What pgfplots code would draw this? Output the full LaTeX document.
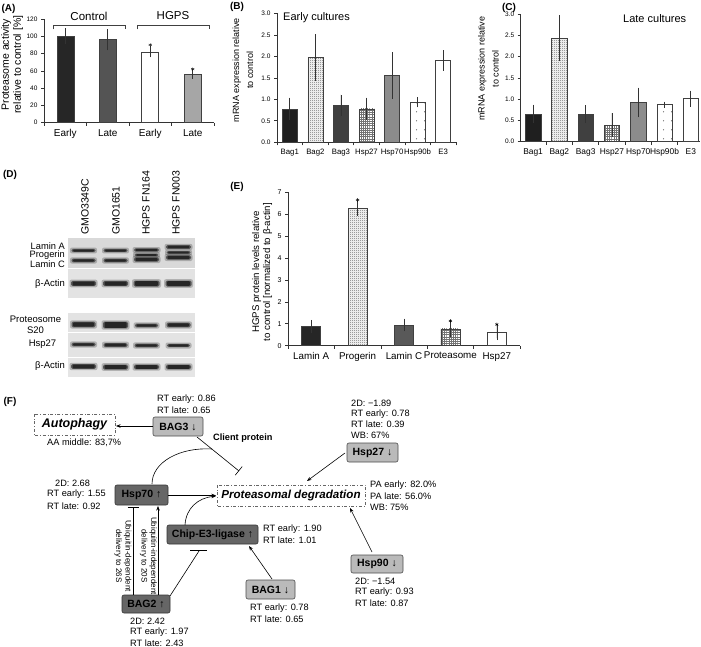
\documentclass[border=0pt]{standalone}
\usepackage{fontspec}
\setmainfont{Liberation Sans}
\usepackage{pgfplots}
\pgfplotsset{compat=1.18}
\usetikzlibrary{patterns,arrows.meta}

% fill patterns of the bars
\pgfdeclarepatternformonly{finecheck}{\pgfqpoint{0pt}{0pt}}{\pgfqpoint{2pt}{2pt}}{\pgfqpoint{2pt}{2pt}}{%
  \pgfpathrectangle{\pgfqpoint{0pt}{0pt}}{\pgfqpoint{1pt}{1pt}}%
  \pgfpathrectangle{\pgfqpoint{1pt}{1pt}}{\pgfqpoint{1pt}{1pt}}\pgfusepath{fill}}
\pgfdeclarepatternformonly{finegrid}{\pgfqpoint{-0.3pt}{-0.3pt}}{\pgfqpoint{2.5pt}{2.5pt}}{\pgfqpoint{2.2pt}{2.2pt}}{%
  \pgfsetlinewidth{0.45pt}%
  \pgfpathmoveto{\pgfqpoint{0pt}{0pt}}\pgfpathlineto{\pgfqpoint{2.2pt}{0pt}}%
  \pgfpathmoveto{\pgfqpoint{0pt}{0pt}}\pgfpathlineto{\pgfqpoint{0pt}{2.2pt}}\pgfusepath{stroke}}
\pgfdeclarepatternformonly{sparsedots}{\pgfqpoint{0pt}{0pt}}{\pgfqpoint{7.5pt}{8.7pt}}{\pgfqpoint{7.5pt}{8.7pt}}{%
  \pgfpathcircle{\pgfqpoint{3.7pt}{4.3pt}}{0.6pt}\pgfusepath{fill}}

\pgfplotsset{
  /pgf/number format/assume math mode=true,
  panel/.style={scale only axis, anchor=south west, clip=false,
    axis x line*=bottom, axis y line*=left, tick align=outside,
    ymin=0, enlargelimits=false,
    axis line style={black!80, line width=0.6pt},
    tick style={black!80, line width=0.6pt},
    major tick length=3pt, minor tick length=3pt,
    major x tick style={draw=none}, minor y tick num=0,
    yticklabel style={font=\fontsize{6.5}{7}\selectfont},
    ylabel style={anchor=center, align=center}},
  bar/.style={ybar, draw=black!75, line width=0.5pt},
  errcap/.style={error bars/y dir=both, error bars/y explicit,
    error bars/error mark=-, error bars/error mark options={black!80, mark size=2pt, line width=0.6pt},
    error bars/error bar style={black!80, line width=0.6pt}},
  errline/.style={error bars/y dir=both, error bars/y explicit,
    error bars/error mark=none,
    error bars/error bar style={black!80, line width=0.7pt}},
}

\newcommand\band[4]{% centre x, centre y, half width, half height
  \fill[black, opacity=0.22, rounded corners=2pt] (#1-#3-1.5,#2-#4-1.3) rectangle (#1+#3+1.5,#2+#4+1.3);
  \fill[black, opacity=0.5, rounded corners=1.5pt] (#1-#3,#2-#4) rectangle (#1+#3,#2+#4);
  \fill[black!85, rounded corners=1pt] (#1-#3+1.5,#2-#4+0.6) rectangle (#1+#3-1.5,#2+#4-0.6);}

\begin{document}
\begin{tikzpicture}
\useasboundingbox (0,0) rectangle (701pt,-647pt);

% (A)
\begin{axis}[panel, at={(44pt,-122.7pt)}, width=170pt, height=103.7pt,
  xmin=-0.5, xmax=3.5, ymax=120, ytick={0,20,40,60,80,100,120},
  xtick={0,1,2,3}, xticklabels={Early,Late,Early,Late},
  minor xtick={-0.5,0.5,1.5,2.5,3.5},
  xticklabel style={font=\fontsize{10}{12}\selectfont},
  ylabel={Proteasome activity\\relative to control [\%]},
  ylabel style={at={(axis description cs:-0.188,0.56)}, font=\fontsize{10.5}{12}\selectfont}]
\addplot[bar, bar width=17pt, fill=black!85, errcap] coordinates {(0,100) +- (0,7)};
\addplot[bar, bar width=17pt, fill=black!67, errcap] coordinates {(1,96) +- (0,10)};
\addplot[bar, bar width=17pt, fill=white, errcap] coordinates {(2,82) +- (0,4)};
\addplot[bar, bar width=17pt, fill=black!35, errcap] coordinates {(3,56) +- (0,3)};
\addplot[only marks, mark=asterisk, mark size=1.8pt, black] coordinates {(2,90) (3,62)};
\end{axis}

% (B)
\begin{axis}[panel, at={(277pt,-142.3pt)}, width=179pt, height=129pt,
  xmin=-0.5, xmax=6.5, ymax=3, ytick={0,0.5,1,1.5,2,2.5,3},
  yticklabel style={/pgf/number format/.cd, fixed, fixed zerofill, precision=1},
  xtick={0,...,6}, xticklabels={Bag1,Bag2,Bag3,Hsp27,Hsp70,Hsp90b,E3},
  minor xtick={-0.5,0.5,...,6.5},
  xticklabel style={font=\fontsize{7.8}{10}\selectfont},
  ylabel={mRNA expression relative\\to control},
  ylabel style={at={(axis description cs:-0.19,0.56)}, font=\fontsize{9}{14}\selectfont}]
\addplot[bar, bar width=15pt, fill=black!88, errline] coordinates {(0,0.78) +- (0,0.26)};
\addplot[bar, bar width=15pt, pattern=finecheck, pattern color=black!60, errline] coordinates {(1,1.97) +- (0,0.54)};
\addplot[bar, bar width=15pt, fill=black!75, errline] coordinates {(2,0.86) +- (0,0.25)};
\addplot[bar, bar width=15pt, pattern=finegrid, pattern color=black!55, errline] coordinates {(3,0.78) +- (0,0.26)};
\addplot[bar, bar width=15pt, fill=black!45, errline] coordinates {(4,1.55) +- (0,0.54)};
\addplot[bar, bar width=15pt, pattern=sparsedots, pattern color=black!70, errline] coordinates {(5,0.93) +- (0,0.12)};
\addplot[bar, bar width=15pt, fill=white, errline] coordinates {(6,1.90) +- (0,0.24)};
\end{axis}

% (C)
\begin{axis}[panel, at={(520.7pt,-141.7pt)}, width=179.3pt, height=127.7pt,
  xmin=-0.47, xmax=6.35, ymax=3, ytick={0,0.5,1,1.5,2,2.5,3},
  yticklabel style={/pgf/number format/.cd, fixed, fixed zerofill, precision=1},
  xtick={0,...,6}, xticklabels={Bag1,Bag2,Bag3,Hsp27,Hsp70,Hsp90b,E3},
  minor xtick={0.5,1.5,...,5.5},
  xticklabel style={font=\fontsize{8.4}{10}\selectfont},
  ylabel={mRNA expression relative\\to control},
  ylabel style={at={(axis description cs:-0.18,0.57)}, font=\fontsize{9}{14}\selectfont}]
\addplot[bar, bar width=15.5pt, fill=black!88, errline] coordinates {(0,0.65) +- (0,0.22)};
\addplot[bar, bar width=15.5pt, pattern=finecheck, pattern color=black!60, errline] coordinates {(1,2.43) +- (0,0.54)};
\addplot[bar, bar width=15.5pt, fill=black!75, errline] coordinates {(2,0.65) +- (0,0.21)};
\addplot[bar, bar width=15.5pt, pattern=finegrid, pattern color=black!55, errline] coordinates {(3,0.39) +- (0,0.28)};
\addplot[bar, bar width=15.5pt, fill=black!45, errline] coordinates {(4,0.92) +- (0,0.35)};
\addplot[bar, bar width=15.5pt, pattern=sparsedots, pattern color=black!70, errline] coordinates {(5,0.87) +- (0,0.07)};
\addplot[bar, bar width=15.5pt, fill=white, errline] coordinates {(6,1.01) +- (0,0.19)};
\end{axis}

% (E)
\begin{axis}[panel, at={(288pt,-345.7pt)}, width=232pt, height=153.4pt,
  xmin=-0.5, xmax=4.5, ymax=7, ytick={0,1,2,3,4,5,6,7},
  yticklabel style={font=\fontsize{7}{8}\selectfont},
  xtick={0,...,4}, xticklabels={Lamin A,Progerin,Lamin C,Proteasome,Hsp27},
  minor xtick={-0.5,0.5,...,4.5},
  xticklabel style={font=\fontsize{9.8}{12}\selectfont},
  ylabel={HGPS protein levels relative\\to control [normalized to β-actin]},
  ylabel style={at={(axis description cs:-0.112,0.48)}, font=\fontsize{9.7}{11}\selectfont}]
\addplot[bar, bar width=19pt, fill=black!85, errcap] coordinates {(0,0.87) +- (0,0.22)};
\addplot[bar, bar width=19pt, pattern=finecheck, pattern color=black!60, errcap] coordinates {(1,6.27) +- (0,0.25)};
\addplot[bar, bar width=19pt, fill=black!65, errcap] coordinates {(2,0.95) +- (0,0.2)};
\addplot[bar, bar width=19pt, pattern=finegrid, pattern color=black!55, errcap] coordinates {(3,0.77) +- (0,0.3)};
\addplot[bar, bar width=19pt, fill=white, errcap] coordinates {(4,0.62) +- (0,0.27)};
\addplot[only marks, mark=asterisk, mark size=1.8pt, black] coordinates {(1,6.65) (3,1.13) (4,0.97)};
\end{axis}

\begin{scope}[x=1pt, y=-1pt, every node/.style={inner sep=0pt},
  lab/.style={font=\bfseries\fontsize{10}{12}\selectfont},
  ann/.style={anchor=west, font=\fontsize{9.2}{10.7}\selectfont},
  boxt/.style={font=\bfseries\fontsize{10.5}{12}\selectfont},
  lbox/.style={draw=black!70, fill=black!27, rounded corners=2pt, line width=0.6pt},
  dbox/.style={draw=black!80, fill=black!60, rounded corners=2pt, line width=0.6pt},
  dashbox/.style={draw=black!60, dash dot, line width=0.6pt},
  arr/.style={-{Stealth[length=4.5pt,width=3.5pt]}, line width=0.6pt},
  inh/.style={-{Bar[width=11pt]}, line width=0.6pt}]
% panel letters
\node[lab] at (8.5,9) {(A)};
\node[lab] at (237,7) {(B)};
\node[lab] at (509,8) {(C)};
\node[lab] at (10,175) {(D)};
\node[lab] at (237,187) {(E)};
\node[lab] at (10,402) {(F)};

% (A) brackets
\draw[black!75, line width=0.6pt] (53,29.5) -- (53,25) -- (125,25) -- (125,29.5);
\draw[black!75, line width=0.6pt] (137,29.5) -- (137,25) -- (209,25) -- (209,29.5);
\node[font=\fontsize{11.5}{13}\selectfont] at (89,16) {Control};
\node[font=\fontsize{11.5}{13}\selectfont] at (173,16) {HGPS};

\node[anchor=west, font=\fontsize{11}{13}\selectfont] at (283,18) {Early cultures};
\node[anchor=west, font=\fontsize{11}{13}\selectfont] at (623,19) {Late cultures};

% (D) blots
\foreach \x/\t in {85/GMO3349C, 116/GMO1651, 146/HGPS FN164, 176/HGPS FN003}
  \node[rotate=90, anchor=west, font=\fontsize{10.5}{12}\selectfont] at (\x,235) {\t};
\fill[black!15] (68,238) rectangle (195,268);
\fill[black!11] (68,268.6) rectangle (195,298);
\fill[black!11] (68,313) rectangle (195,332);
\fill[black!11] (68,332.8) rectangle (195,357);
\fill[black!10] (68,357.8) rectangle (195,377);
\band{83.5}{250.5}{12}{1.6}\band{115.5}{250.5}{12}{1.6}\band{146.5}{250}{12.5}{1.7}\band{178.5}{247}{12.5}{1.8}
\band{146.5}{255}{12}{1.4}\band{178.5}{252.5}{12}{1.5}
\band{83.5}{260.5}{12}{1.8}\band{115.5}{260.5}{12}{1.8}\band{146.5}{259.5}{12.5}{2.2}\band{178.5}{257.5}{12.5}{2.2}
\band{83.5}{283.5}{12.5}{2.6}\band{115.5}{283.5}{12.5}{2.6}\band{146.5}{283.5}{13}{3}\band{178.5}{283.5}{13}{3}
\band{83.5}{324.5}{12}{2.8}\band{115.5}{325}{12.5}{3.4}\band{146.5}{325.5}{11.5}{1.8}\band{178.5}{325}{12}{2.3}
\band{83.5}{344.5}{12}{1.8}\band{115.5}{345}{12}{2}\band{146.5}{345.5}{12}{1.8}\band{178.5}{345.5}{11.5}{1.7}
\band{83.5}{366.5}{12.5}{2.4}\band{115.5}{367}{12.5}{2.5}\band{146.5}{367}{12.5}{2.4}\band{178.5}{367}{12.5}{2.4}
\node[anchor=east, align=right, font=\fontsize{9.3}{8}\selectfont] at (65,255) {Lamin A\\Progerin\\Lamin C};
\node[font=\fontsize{9.5}{11}\selectfont] at (50,284) {β-Actin};
\node[align=center, font=\fontsize{9.5}{11}\selectfont] at (35.5,324.5) {Proteosome\\S20};
\node[font=\fontsize{9.5}{11}\selectfont] at (42.5,344) {Hsp27};
\node[font=\fontsize{9.5}{11}\selectfont] at (50,366) {β-Actin};

% (F) diagram
\node[ann] at (157,399) {RT early: 0.86};
\node[ann] at (157,410) {RT late: 0.65};
\draw[dashbox] (34,414) rectangle (115,435);
\node[font=\bfseries\itshape\fontsize{12.5}{14}\selectfont] at (74.5,424.5) {Autophagy};
\node[ann] at (47,443) {AA middle: 83,7\%};
\draw[lbox] (153,417) rectangle (203,436);
\node[boxt] at (178,426.5) {BAG3 ↓};
\draw[arr] (153,426) -- (116,426);
\node[ann, font=\bfseries\fontsize{9.2}{10.7}\selectfont] at (213,438) {Client protein};
\draw[inh] (197,437) -- (239,471);
\draw[line width=0.6pt] (152,484) .. controls (152,462) and (180,447) .. (212,449);

\draw[lbox] (347,443) rectangle (398,462);
\node[boxt] at (372.5,452.5) {Hsp27 ↓};
\node[ann] at (351,403) {2D: −1.89};
\node[ann] at (351,413.7) {RT early: 0.78};
\node[ann] at (351,424.4) {RT late: 0.39};
\node[ann] at (351,435) {WB: 67\%};
\draw[arr] (345,453) -- (307,481);

\draw[dashbox] (217,485) rectangle (365,506);
\node[font=\bfseries\itshape\fontsize{11.6}{14}\selectfont] at (291,495.5) {Proteasomal degradation};
\node[ann] at (370,485) {PA early: 82.0\%};
\node[ann] at (370,496) {PA late: 56.0\%};
\node[ann] at (370,507) {WB: 75\%};

\draw[dbox] (115,485) rectangle (168,505);
\node[boxt] at (141.5,495) {Hsp70 ↑};
\node[ann] at (55,483) {2D: 2.68};
\node[ann] at (47,494.5) {RT early: 1.55};
\node[ann] at (47,506) {RT late: 0.92};
\draw[arr] (168,495.5) -- (216,495.5);

\draw[dbox] (167,525) rectangle (258,544);
\node[boxt] at (212.5,534.5) {Chip-E3-ligase ↑};
\draw[arr] (185,525) .. controls (186,508) and (198,498) .. (216,496);
\node[ann] at (263,529) {RT early: 1.90};
\node[ann] at (263,540) {RT late: 1.01};

\draw[lbox] (246,580) rectangle (295,599);
\node[boxt] at (270.5,589.5) {BAG1 ↓};
\draw[arr] (272,579) -- (249,546);
\node[ann] at (250,608) {RT early: 0.78};
\node[ann] at (250,619) {RT late: 0.65};

\draw[lbox] (351,555) rectangle (403,573);
\node[boxt] at (377,564) {Hsp90 ↓};
\draw[arr] (372,552) -- (350,508);
\node[ann] at (355,581) {2D: −1.54};
\node[ann] at (355,592) {RT early: 0.93};
\node[ann] at (355,603) {RT late: 0.87};

\draw[dbox] (122,595) rectangle (170,613);
\node[boxt] at (146,604) {BAG2 ↑};
\node[ann] at (130,621) {2D: 2.42};
\node[ann] at (130,632) {RT early: 1.97};
\node[ann] at (130,643) {RT late: 2.43};
\draw[inh] (133,595) -- (133,507);
\draw[arr] (158,595) -- (158,506);
\draw[line width=0.6pt] (170,596) -- (199,551);
\draw[line width=0.6pt] (190,550.5) -- (207,550.5);
\node[rotate=-90, align=center, font=\fontsize{8}{9.5}\selectfont] at (123,556) {Ubiquitin-dependent\\delivery to 26S};
\node[rotate=-90, align=center, font=\fontsize{8}{9.5}\selectfont] at (148.5,556) {Ubiquitin-independent\\delivery to 20S};
\end{scope}
\end{tikzpicture}
\end{document}
